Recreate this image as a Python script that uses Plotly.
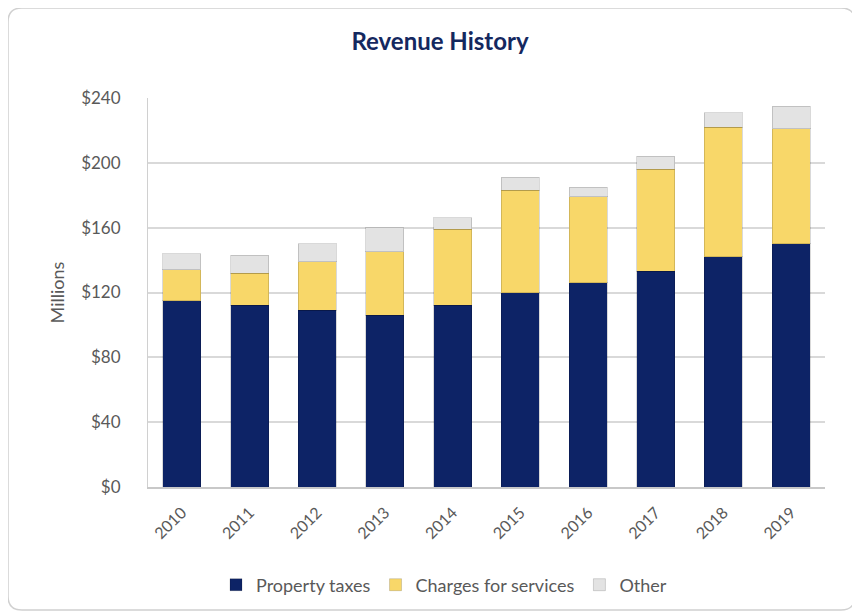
import plotly.graph_objects as go

years = ["2010", "2011", "2012", "2013", "2014", "2015", "2016", "2017", "2018", "2019"]
property_taxes = [115, 112, 109, 106, 112, 120, 126, 133, 142, 150]
charges_for_services = [19, 20, 30, 39, 47, 63, 53, 63, 80, 71]
other = [10, 11, 11, 15, 7, 8, 6, 8, 9, 14]
y_ticks = [0, 40, 80, 120, 160, 200, 240]
y_tick_labels = ["$0", "$40", "$80", "$120", "$160", "$200", "$240"]

FONT = "Lato, Noto Sans, sans-serif"
GREY_TEXT = "#595959"

series = [
    ("Property taxes", property_taxes, "#0d2366"),
    ("Charges for services", charges_for_services, "#f8d769"),
    ("Other", other, "#e3e3e3"),
]

fig = go.Figure()
for name, values, colour in series:
    fig.add_trace(go.Bar(
        x=years,
        y=values,
        name=name,
        marker={"color": colour, "line": {"color": "rgba(0,0,0,0.15)", "width": 1}},
    ))

# the page body adds an 8px offset, so layout numbers are page pixels minus 8
L, R, T, B = 140, 43, 90, 137
W, H = 860 - L - R, 616 - T - B


def px(x):
    return (x - L) / W


def py(y):
    return (616 - B - y) / H


x0, x1, y0, y1, r = 0, 847, 0, 602, 14
frame = (
    f"M {px(x0 + r)},{py(y0)} L {px(x1 - r)},{py(y0)} "
    f"Q {px(x1)},{py(y0)} {px(x1)},{py(y0 + r)} "
    f"L {px(x1)},{py(y1 - r)} Q {px(x1)},{py(y1)} {px(x1 - r)},{py(y1)} "
    f"L {px(x0 + r)},{py(y1)} Q {px(x0)},{py(y1)} {px(x0)},{py(y1 - r)} "
    f"L {px(x0)},{py(y0 + r)} Q {px(x0)},{py(y0)} {px(x0 + r)},{py(y0)} Z"
)
fig.add_shape(type="path", path=frame, xref="paper", yref="paper",
              line={"color": "#d0d0d0", "width": 1.5}, layer="below")

fig.update_layout(
    barmode="stack",
    bargap=0.44,
    width=860,
    height=616,
    margin={"l": L, "r": R, "t": T, "b": B},
    paper_bgcolor="white",
    plot_bgcolor="white",
    font={"family": FONT, "color": GREY_TEXT, "size": 16},
    title={
        "text": "<b>Revenue History</b>",
        "x": 432 / 860,
        "xanchor": "center",
        "y": 1 - 34 / 616,
        "yanchor": "middle",
        "font": {"family": FONT, "size": 24, "color": "#14285f"},
    },
    xaxis={
        "tickangle": -45,
        "tickfont": {"size": 16, "color": GREY_TEXT},
        "ticklabelstandoff": 8,
        "showline": True,
        "linecolor": "#c8c8c8",
        "linewidth": 2,
        "ticks": "",
    },
    yaxis={
        "range": [0, 240],
        "tickvals": y_ticks,
        "ticktext": y_tick_labels,
        "ticklabelstandoff": 23,
        "tickfont": {"size": 17, "color": GREY_TEXT},
        "gridcolor": "#d9d9d9",
        "gridwidth": 1.5,
        "showline": True,
        "linecolor": "#d0d0d0",
        "zeroline": False,
        "ticks": "",
        "title": {"text": "Millions", "font": {"size": 18, "color": GREY_TEXT}, "standoff": 11},
    },
    legend={
        "orientation": "h",
        "x": px(436),
        "xanchor": "center",
        "y": py(577),
        "yanchor": "middle",
        "font": {"size": 18, "color": GREY_TEXT},
        "itemwidth": 30,
        "traceorder": "normal",
    },
)

fig.write_html("out.html")
